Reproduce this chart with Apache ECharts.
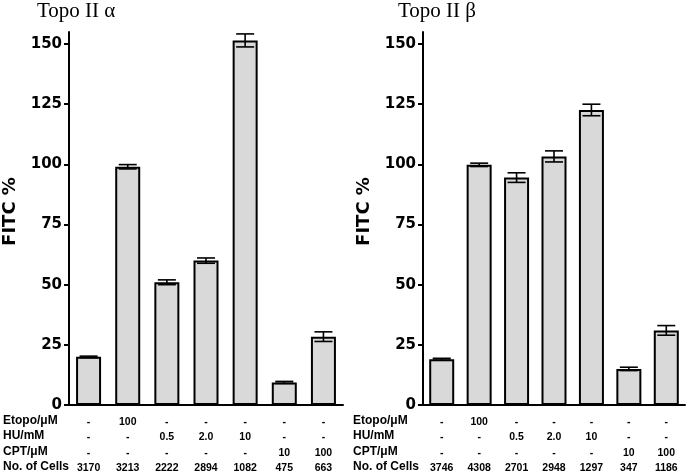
<!DOCTYPE html>
<html>
<head>
<meta charset="utf-8">
<script src="https://cdn.jsdelivr.net/npm/echarts@6/dist/echarts.min.js"></script>
<style>html,body{margin:0;padding:0;background:#fff}#c{width:692px;height:475px}</style>
</head>
<body>
<div id="c"></div>
<script>
// ---- data ----
const categories = ['c1','c2','c3','c4','c5','c6','c7'];
const alphaValues = [20, 99, 51, 60, 151.5, 9.4, 28.4];
const alphaErrors = [0.3, 0.9, 1.0, 1.1, 2.7, 0.4, 2.0];
const betaValues = [19, 99.8, 94.5, 103.3, 122.6, 15, 31];
const betaErrors = [0.4, 0.7, 2.0, 2.3, 2.4, 0.7, 2.0];
const etopoRow = ['-', '100', '-', '-', '-', '-', '-'];
const huRow = ['-', '-', '0.5', '2.0', '10', '-', '-'];
const cptRow = ['-', '-', '-', '-', '-', '10', '100'];
const alphaCells = ['3170', '3213', '2222', '2894', '1082', '475', '663'];
const betaCells = ['3746', '4308', '2701', '2948', '1297', '347', '1186'];
const rowLabels = ['Etopo/\u03bcM', 'HU/mM', 'CPT/\u03bcM', 'No. of Cells'];
const yTicks = [0, 25, 50, 75, 100, 125, 150];
const titles = ['Topo II \u03b1', 'Topo II \u03b2'];

const chart = echarts.init(document.getElementById('c'));
const grids = [
  {left: 66, right: 349, top: 32, bottom: 70},
  {left: 423, right: 7, top: 32, bottom: 70}
];
const rowOffsets = [17, 32, 48, 63];

const xAxes = [];
const yAxes = [];
const series = [];
[0, 1].forEach(function (g) {
  xAxes.push({
    type: 'category', gridIndex: g, data: categories,
    axisLine: {lineStyle: {color: '#000', width: 2}},
    axisTick: {show: false}, axisLabel: {show: false}
  });
  const rows = [etopoRow, huRow, cptRow, g === 0 ? alphaCells : betaCells];
  rows.forEach(function (r, i) {
    xAxes.push({
      type: 'category', gridIndex: g, data: r, position: 'bottom', offset: rowOffsets[i],
      axisLine: {show: false}, axisTick: {show: false},
      axisLabel: {margin: 0, verticalAlign: 'middle', color: '#000', fontWeight: 'bold',
        fontSize: 10.5, fontFamily: 'Liberation Sans, Arial, sans-serif', interval: 0}
    });
  });
  yAxes.push({
    type: 'value', gridIndex: g, min: 0, max: 155, interval: 25,
    name: 'FITC %', nameLocation: 'middle', nameGap: 50, nameRotate: 90,
    nameTextStyle: {color: '#000', fontWeight: 'bold', fontSize: 18,
      fontFamily: 'DejaVu Sans, sans-serif', padding: [0, 0, 0, 14]},
    splitLine: {show: false},
    axisLine: {show: true, lineStyle: {color: '#000', width: 2}},
    axisTick: {show: true, length: 5, lineStyle: {color: '#000', width: 2}, customValues: yTicks},
    axisLabel: {color: '#000', fontWeight: 'bold', fontSize: 15, margin: 7,
      fontFamily: 'DejaVu Sans, sans-serif', customValues: yTicks}
  });
  const vals = g === 0 ? alphaValues : betaValues;
  const errs = g === 0 ? alphaErrors : betaErrors;
  const xi = g * 5;
  series.push({
    type: 'bar', xAxisIndex: xi, yAxisIndex: g, data: vals, barWidth: 25,
    itemStyle: {color: '#d9d9d9', borderColor: '#000', borderWidth: 2},
    silent: true
  });
  series.push({
    type: 'custom', xAxisIndex: xi, yAxisIndex: g,
    data: vals.map(function (v, i) { return [i, v - errs[i], v + errs[i]]; }),
    renderItem: function (params, api) {
      const lo = api.coord([api.value(0), api.value(1)]);
      const hi = api.coord([api.value(0), api.value(2)]);
      const hw = 9;
      const st = {stroke: '#000', lineWidth: 1.6};
      return {type: 'group', children: [
        {type: 'line', shape: {x1: lo[0], y1: lo[1], x2: hi[0], y2: hi[1]}, style: st},
        {type: 'line', shape: {x1: lo[0] - hw, y1: lo[1], x2: lo[0] + hw, y2: lo[1]}, style: st},
        {type: 'line', shape: {x1: hi[0] - hw, y1: hi[1], x2: hi[0] + hw, y2: hi[1]}, style: st}
      ]};
    },
    z: 5, silent: true
  });
});

const rowY = [422, 437, 453, 468];
const graphics = [];
[3, 353].forEach(function (x) {
  rowLabels.forEach(function (t, i) {
    graphics.push({type: 'text', left: x, top: rowY[i] - 7,
      style: {text: t, fill: '#000', font: 'bold 12px "Liberation Sans", Arial, sans-serif'}});
  });
});

chart.setOption({
  animation: false,
  title: [
    {text: titles[0], left: 37, top: 1, padding: 0,
      textStyle: {fontFamily: 'Liberation Serif, Times New Roman, serif', fontWeight: 'normal', fontSize: 21, color: '#000'}},
    {text: titles[1], left: 398, top: 1, padding: 0,
      textStyle: {fontFamily: 'Liberation Serif, Times New Roman, serif', fontWeight: 'normal', fontSize: 21, color: '#000'}}
  ],
  grid: grids,
  xAxis: xAxes,
  yAxis: yAxes,
  series: series,
  graphic: graphics
});
</script>
</body>
</html>
